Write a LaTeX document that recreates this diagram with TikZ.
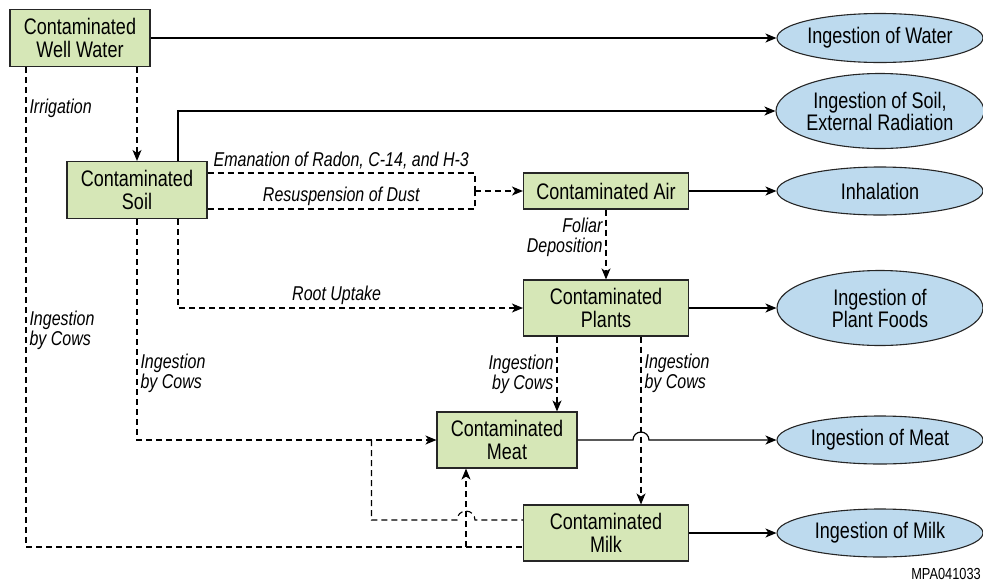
\documentclass[tikz,border=0pt]{standalone}
\usepackage{fontspec}
\setmainfont{Liberation Sans}[FakeStretch=0.8]
\usetikzlibrary{shapes.geometric,arrows.meta,calc}
\definecolor{stagegreen}{RGB}{214,231,183}
\definecolor{exposureblue}{RGB}{189,218,238}

\begin{document}
\begin{tikzpicture}[x=1pt,y=-1pt,
  stage/.style={draw=black!85, fill=stagegreen, line width=1.1pt, inner sep=0pt,
    align=center, font=\fontsize{22.5}{23}\selectfont},
  exposure/.style={ellipse, draw=black!85, fill=exposureblue, line width=1.1pt,
    inner sep=0pt, minimum width=206pt, align=center, font=\fontsize{22.5}{22}\selectfont},
  solidarrow/.style={line width=1.2pt, -{Stealth[length=11pt,width=9pt,inset=3pt]}},
  dashline/.style={line width=1.1pt, dash pattern=on 6pt off 4pt},
  dasharrow/.style={dashline, -{Stealth[length=11pt,width=9pt,inset=3pt]}},
  note/.style={font=\fontsize{20}{20}\selectfont\itshape, inner sep=3pt}]
\useasboundingbox (0,0) rectangle (983,582);

% Compartments
\node[stage, minimum width=140pt, minimum height=57pt] (well) at (80,38) {Contaminated\\Well Water};
\node[stage, minimum width=140pt, minimum height=57pt] (soil) at (137,190) {Contaminated\\Soil};
\node[stage, minimum width=165pt, minimum height=36pt] (air) at (606,191) {Contaminated Air};
\node[stage, minimum width=165pt, minimum height=56pt] (plants) at (606,308) {Contaminated\\Plants};
\node[stage, minimum width=140pt, minimum height=56pt] (meat) at (507,440) {Contaminated\\Meat};
\node[stage, minimum width=165pt, minimum height=56pt] (milk) at (606,533) {Contaminated\\Milk};

% Exposure pathways
\node[exposure, minimum height=49pt] (ewater) at (880,38) {Ingestion of Water};
\node[exposure, minimum height=75pt] (esoil) at (880,111) {Ingestion of Soil,\\External Radiation};
\node[exposure, minimum height=48pt] (einh) at (880,191) {Inhalation};
\node[exposure, minimum height=75pt] (eplant) at (880,308) {Ingestion of\\Plant Foods};
\node[exposure, minimum height=48pt] (emeat) at (880,440) {Ingestion of Meat};
\node[exposure, minimum height=48pt] (emilk) at (880,533) {Ingestion of Milk};

% Helper points
\coordinate (dustjoin) at ([xshift=-48pt]air.west);
\coordinate (meatdrop) at ([xshift=-49pt]plants.south);
\coordinate (milkdrop) at ([xshift=35pt]plants.south);
\coordinate (meatin) at ([xshift=-41pt]meat.south);
\coordinate (milkin) at ([yshift=-14pt]milk.west);
\coordinate (milkup) at ([yshift=13pt]milk.west);
\coordinate (soilfork) at ([xshift=-65pt]meat.west);

% Well water
\draw[solidarrow] (well.east) -- (ewater.west);
\draw[dasharrow] ([xshift=57pt]well.south) -- (soil.north);
\draw[dashline] ([xshift=-54pt]well.south) |- (milkin)
  node[note, pos=0.043, right] {Irrigation}
  node[note, pos=0.274, right, align=left] {Ingestion\\by Cows};
\draw[dasharrow] (milkin -| meatin) -- (meatin);

% Soil
\draw[solidarrow] ([xshift=41pt]soil.north) |- (esoil.west);
\draw[dashline] ([yshift=17pt]soil.east) -| (dustjoin)
  node[note, pos=0.25, above] {Emanation of Radon, C-14, and H-3};
\draw[dashline] ([yshift=-19pt]soil.east) -| (dustjoin)
  node[note, pos=0.25, above] {Resuspension of Dust};
\draw[dasharrow] (dustjoin) -- (air.west);
\draw[dasharrow] ([xshift=41pt]soil.south) |- (plants.west)
  node[note, pos=0.73, above] {Root Uptake};
\draw[dasharrow] (soil.south) |- (meat.west)
  node[note, pos=0.35, right, align=left] {Ingestion\\by Cows};
\draw[dashline] (soilfork) |- ($(milkup -| meatin)+(-9,0)$)
  arc[start angle=180, end angle=360, radius=9] -- (milkup);

% Air
\draw[solidarrow] (air.east) -- (einh.west);
\draw[dasharrow] (air.south) -- (plants.north)
  node[note, pos=0.4, left, align=right] {Foliar\\Deposition};

% Plants
\draw[solidarrow] (plants.east) -- (eplant.west);
\draw[dasharrow] (meatdrop) -- (meatdrop |- meat.north)
  node[note, midway, left, align=right] {Ingestion\\by Cows};
\draw[dasharrow] (milkdrop) -- (milkdrop |- milk.north)
  node[note, pos=0.22, right, align=left] {Ingestion\\by Cows};

% Meat and milk
\draw[solidarrow] (meat.east) -- ($(meat.east -| milkdrop)+(-8,0)$)
  arc[start angle=180, end angle=360, radius=8] -- (emeat.west);
\draw[solidarrow] (milk.east) -- (emilk.west);

\node[font=\fontsize{16}{16}\selectfont, anchor=east, inner sep=0pt] (figcode) at (981,574) {MPA041033};
\end{tikzpicture}
\end{document}
